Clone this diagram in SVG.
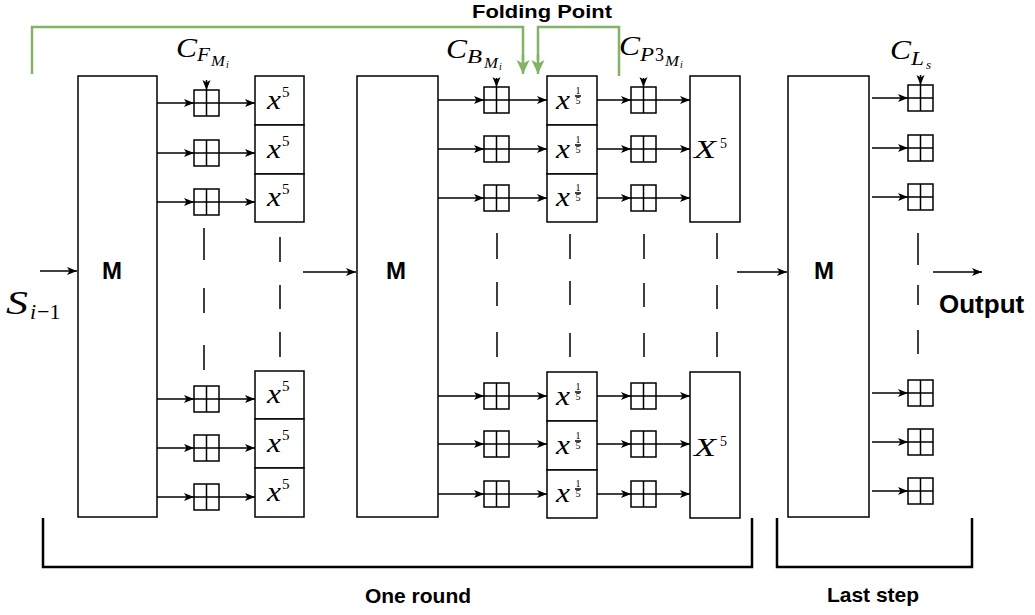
<svg xmlns="http://www.w3.org/2000/svg" xmlns:xlink="http://www.w3.org/1999/xlink" width="1035" height="615" viewBox="0 0 1035 615">
<style>
.bx{fill:#fff;stroke:#000;stroke-width:1.5}
.ln{stroke:#000;stroke-width:1.5;fill:none}
.ar{stroke:#000;stroke-width:1.5;fill:none;marker-end:url(#ah)}
.ds{stroke:#000;stroke-width:1.5;fill:none}
.gr{stroke:#82b366;stroke-width:2.5;fill:none}
.ga{stroke:#82b366;stroke-width:2.5;fill:none;marker-end:url(#gh)}
.br{stroke:#000;stroke-width:2.5;fill:none}
.bold{font-family:"Liberation Sans",Arial,sans-serif;font-weight:bold;fill:#000}
.mi{font-family:"Liberation Serif","Times New Roman",serif;font-style:italic;fill:#000}
.mn{font-family:"Liberation Serif","Times New Roman",serif;font-style:normal;fill:#000}
</style>
<defs>
<marker id="ah" markerWidth="11" markerHeight="9" refX="10" refY="4.5" orient="auto" markerUnits="userSpaceOnUse"><path d="M0,0.5 L10,4.5 L0,8.5 L2.5,4.5 z" fill="#000"/></marker>
<marker id="gh" markerWidth="15" markerHeight="14" refX="14" refY="7" orient="auto" markerUnits="userSpaceOnUse"><path d="M0,0.5 L14,7 L0,13.5 L3.5,7 z" fill="#82b366"/></marker>
<g id="plus"><rect x="0" y="0" width="25" height="26" class="bx"/><path d="M12.5,0 V26 M0,13 H25" class="ln"/></g>
</defs>

<!-- connectors -->
<g id="connectors">
  <path class="gr" d="M32,74 V27 H523 V60"/>
  <path class="ga" d="M523,55 V74"/>
  <path class="gr" d="M619,76 V27 H538 V60"/>
  <path class="ga" d="M538,55 V74"/>
  <path class="ar" d="M40,271 H77"/>
  <path class="ar" d="M303,272 H356"/>
  <path class="ar" d="M737,272 H787"/>
  <path class="ar" d="M933,272 H982"/>
  <path class="ar" d="M206.5,80 V90"/>
  <path class="ar" d="M496.5,78 V87"/>
  <path class="ar" d="M643.5,78 V87"/>
  <path class="ar" d="M920.5,75 V85"/>
  <path class="ar" d="M157,103 H194"/><path class="ar" d="M219,103 H255"/>
  <path class="ar" d="M157,153 H194"/><path class="ar" d="M219,153 H255"/>
  <path class="ar" d="M157,202 H194"/><path class="ar" d="M219,202 H255"/>
  <path class="ar" d="M157,399 H194"/><path class="ar" d="M219,399 H255"/>
  <path class="ar" d="M157,448 H194"/><path class="ar" d="M219,448 H255"/>
  <path class="ar" d="M157,497 H194"/><path class="ar" d="M219,497 H255"/>
  <path class="ar" d="M438,100 H484"/><path class="ar" d="M509,100 H547"/>
  <path class="ar" d="M438,149 H484"/><path class="ar" d="M509,149 H547"/>
  <path class="ar" d="M438,198 H484"/><path class="ar" d="M509,198 H547"/>
  <path class="ar" d="M438,396 H484"/><path class="ar" d="M509,396 H547"/>
  <path class="ar" d="M438,444 H484"/><path class="ar" d="M509,444 H547"/>
  <path class="ar" d="M438,494 H484"/><path class="ar" d="M509,494 H547"/>
  <path class="ar" d="M597,100 H631"/><path class="ar" d="M656,100 H690"/>
  <path class="ar" d="M597,149 H631"/><path class="ar" d="M656,149 H690"/>
  <path class="ar" d="M597,198 H631"/><path class="ar" d="M656,198 H690"/>
  <path class="ar" d="M597,396 H631"/><path class="ar" d="M656,396 H690"/>
  <path class="ar" d="M597,444 H631"/><path class="ar" d="M656,444 H690"/>
  <path class="ar" d="M597,494 H631"/><path class="ar" d="M656,494 H690"/>
  <path class="ar" d="M872,98 H908"/>
  <path class="ar" d="M872,148 H908"/>
  <path class="ar" d="M872,197 H908"/>
  <path class="ar" d="M872,393 H908"/>
  <path class="ar" d="M872,442 H908"/>
  <path class="ar" d="M872,491 H908"/>
</g>

<!-- ellipsis dashes -->
<g id="ellipsis" class="ds">
  <path d="M204,228 V260 M204,288 V313 M204,345 V370"/>
  <path d="M280,237 V262 M280,285 V309 M280,332 V357"/>
  <path d="M497,233 V259 M497,282 V306 M497,332 V357"/>
  <path d="M570,234 V259 M570,281 V305 M570,333 V357"/>
  <path d="M644,234 V259 M644,283 V307 M644,333 V357"/>
  <path d="M717,233 V259 M717,285 V309 M717,332 V357"/>
  <path d="M918,233 V265 M918,285 V305 M918,330 V354"/>
</g>

<!-- M boxes -->
<g id="m1"><rect class="bx" x="78" y="76" width="79" height="441"/><text class="bold" x="112" y="279" font-size="24" text-anchor="middle">M</text></g>
<g id="m2"><rect class="bx" x="357" y="76" width="81" height="441"/><text class="bold" x="396" y="279" font-size="24" text-anchor="middle">M</text></g>
<g id="m3"><rect class="bx" x="788" y="76" width="81" height="441"/><text class="bold" x="824" y="279" font-size="24" text-anchor="middle">M</text></g>

<!-- plus boxes column F -->
<g id="addF1"><use xlink:href="#plus" x="194" y="90"/></g>
<g id="addF2"><use xlink:href="#plus" x="194" y="140"/></g>
<g id="addF3"><use xlink:href="#plus" x="194" y="189"/></g>
<g id="addF4"><use xlink:href="#plus" x="194" y="386"/></g>
<g id="addF5"><use xlink:href="#plus" x="194" y="435"/></g>
<g id="addF6"><use xlink:href="#plus" x="194" y="484"/></g>

<!-- plus boxes column B -->
<g id="addB1"><use xlink:href="#plus" x="484" y="87"/></g>
<g id="addB2"><use xlink:href="#plus" x="484" y="136"/></g>
<g id="addB3"><use xlink:href="#plus" x="484" y="185"/></g>
<g id="addB4"><use xlink:href="#plus" x="484" y="383"/></g>
<g id="addB5"><use xlink:href="#plus" x="484" y="431"/></g>
<g id="addB6"><use xlink:href="#plus" x="484" y="481"/></g>

<!-- plus boxes column P3 -->
<g id="addP1"><use xlink:href="#plus" x="631" y="87"/></g>
<g id="addP2"><use xlink:href="#plus" x="631" y="136"/></g>
<g id="addP3"><use xlink:href="#plus" x="631" y="185"/></g>
<g id="addP4"><use xlink:href="#plus" x="631" y="383"/></g>
<g id="addP5"><use xlink:href="#plus" x="631" y="431"/></g>
<g id="addP6"><use xlink:href="#plus" x="631" y="481"/></g>

<!-- plus boxes column L -->
<g id="addL1"><use xlink:href="#plus" x="908" y="85"/></g>
<g id="addL2"><use xlink:href="#plus" x="908" y="135"/></g>
<g id="addL3"><use xlink:href="#plus" x="908" y="184"/></g>
<g id="addL4"><use xlink:href="#plus" x="908" y="380"/></g>
<g id="addL5"><use xlink:href="#plus" x="908" y="429"/></g>
<g id="addL6"><use xlink:href="#plus" x="908" y="478"/></g>

<!-- x^5 boxes -->
<g id="pow1"><rect class="bx" x="255" y="76" width="49" height="49"/><text class="mi" x="267" y="109" font-size="27" textLength="14" lengthAdjust="spacingAndGlyphs">x</text><text class="mn" x="282" y="97" font-size="15">5</text></g>
<g id="pow2"><rect class="bx" x="255" y="125" width="49" height="49"/><text class="mi" x="267" y="158" font-size="27" textLength="14" lengthAdjust="spacingAndGlyphs">x</text><text class="mn" x="282" y="146" font-size="15">5</text></g>
<g id="pow3"><rect class="bx" x="255" y="174" width="49" height="48"/><text class="mi" x="267" y="206" font-size="27" textLength="14" lengthAdjust="spacingAndGlyphs">x</text><text class="mn" x="282" y="194" font-size="15">5</text></g>
<g id="pow4"><rect class="bx" x="255" y="371" width="49" height="48"/><text class="mi" x="267" y="403" font-size="27" textLength="14" lengthAdjust="spacingAndGlyphs">x</text><text class="mn" x="282" y="391" font-size="15">5</text></g>
<g id="pow5"><rect class="bx" x="255" y="419" width="49" height="49"/><text class="mi" x="267" y="452" font-size="27" textLength="14" lengthAdjust="spacingAndGlyphs">x</text><text class="mn" x="282" y="440" font-size="15">5</text></g>
<g id="pow6"><rect class="bx" x="255" y="468" width="49" height="49"/><text class="mi" x="267" y="501" font-size="27" textLength="14" lengthAdjust="spacingAndGlyphs">x</text><text class="mn" x="282" y="489" font-size="15">5</text></g>

<!-- x^(1/5) boxes -->
<g id="root1"><rect class="bx" x="547" y="76" width="50" height="49"/><text class="mi" x="556" y="109" font-size="27" textLength="14" lengthAdjust="spacingAndGlyphs">x</text><text class="mn" x="578" y="94" font-size="10" text-anchor="middle">1</text><path class="ln" d="M575,96 H581" stroke-width="0.8"/><text class="mn" x="578" y="104" font-size="10" text-anchor="middle">5</text></g>
<g id="root2"><rect class="bx" x="547" y="125" width="50" height="49"/><text class="mi" x="556" y="158" font-size="27" textLength="14" lengthAdjust="spacingAndGlyphs">x</text><text class="mn" x="578" y="143" font-size="10" text-anchor="middle">1</text><path class="ln" d="M575,145 H581" stroke-width="0.8"/><text class="mn" x="578" y="153" font-size="10" text-anchor="middle">5</text></g>
<g id="root3"><rect class="bx" x="547" y="174" width="50" height="48"/><text class="mi" x="556" y="206" font-size="27" textLength="14" lengthAdjust="spacingAndGlyphs">x</text><text class="mn" x="578" y="191" font-size="10" text-anchor="middle">1</text><path class="ln" d="M575,193 H581" stroke-width="0.8"/><text class="mn" x="578" y="201" font-size="10" text-anchor="middle">5</text></g>
<g id="root4"><rect class="bx" x="547" y="372" width="50" height="49"/><text class="mi" x="556" y="405" font-size="27" textLength="14" lengthAdjust="spacingAndGlyphs">x</text><text class="mn" x="578" y="390" font-size="10" text-anchor="middle">1</text><path class="ln" d="M575,392 H581" stroke-width="0.8"/><text class="mn" x="578" y="400" font-size="10" text-anchor="middle">5</text></g>
<g id="root5"><rect class="bx" x="547" y="421" width="50" height="49"/><text class="mi" x="556" y="454" font-size="27" textLength="14" lengthAdjust="spacingAndGlyphs">x</text><text class="mn" x="578" y="439" font-size="10" text-anchor="middle">1</text><path class="ln" d="M575,441 H581" stroke-width="0.8"/><text class="mn" x="578" y="449" font-size="10" text-anchor="middle">5</text></g>
<g id="root6"><rect class="bx" x="547" y="470" width="50" height="48"/><text class="mi" x="556" y="502" font-size="27" textLength="14" lengthAdjust="spacingAndGlyphs">x</text><text class="mn" x="578" y="487" font-size="10" text-anchor="middle">1</text><path class="ln" d="M575,489 H581" stroke-width="0.8"/><text class="mn" x="578" y="497" font-size="10" text-anchor="middle">5</text></g>

<!-- X^5 boxes -->
<g id="sbox1"><rect class="bx" x="690" y="76" width="50" height="146"/><text class="mi" x="694" y="158" font-size="26" textLength="22" lengthAdjust="spacingAndGlyphs">X</text><text class="mn" x="720" y="148" font-size="14">5</text></g>
<g id="sbox2"><rect class="bx" x="690" y="372" width="50" height="146"/><text class="mi" x="694" y="456" font-size="26" textLength="22" lengthAdjust="spacingAndGlyphs">X</text><text class="mn" x="720" y="446" font-size="14">5</text></g>

<!-- braces -->
<g id="brace-round"><path class="br" d="M43,518 V567 H752 V518"/><text class="bold" x="418" y="603" font-size="21" text-anchor="middle">One round</text></g>
<g id="brace-last"><path class="br" d="M777,518 V567 H972 V518"/><text class="bold" x="873" y="602" font-size="21" text-anchor="middle">Last step</text></g>

<!-- labels -->
<g id="label-fold"><text class="bold" x="472" y="18" font-size="18" textLength="140" lengthAdjust="spacingAndGlyphs">Folding Point</text></g>
<g id="label-CF"><text class="mi" x="176" y="57" font-size="27" textLength="21" lengthAdjust="spacingAndGlyphs">C</text><text class="mi" x="197" y="61" font-size="18" textLength="13" lengthAdjust="spacingAndGlyphs">F</text><text class="mi" x="211" y="66" font-size="14" textLength="14" lengthAdjust="spacingAndGlyphs">M</text><text class="mi" x="226" y="68" font-size="10">i</text></g>
<g id="label-CB"><text class="mi" x="446" y="58" font-size="27" textLength="21" lengthAdjust="spacingAndGlyphs">C</text><text class="mi" x="467" y="63" font-size="18" textLength="15" lengthAdjust="spacingAndGlyphs">B</text><text class="mi" x="484" y="68" font-size="14" textLength="14" lengthAdjust="spacingAndGlyphs">M</text><text class="mi" x="499" y="70" font-size="10">i</text></g>
<g id="label-CP3"><text class="mi" x="619" y="55" font-size="27" textLength="21" lengthAdjust="spacingAndGlyphs">C</text><text class="mi" x="640" y="61" font-size="18" textLength="14" lengthAdjust="spacingAndGlyphs">P</text><text class="mn" x="655" y="61" font-size="18">3</text><text class="mi" x="665" y="66" font-size="14" textLength="14" lengthAdjust="spacingAndGlyphs">M</text><text class="mi" x="680" y="68" font-size="10">i</text></g>
<g id="label-CL"><text class="mi" x="890" y="59" font-size="27" textLength="21" lengthAdjust="spacingAndGlyphs">C</text><text class="mi" x="911" y="65" font-size="18" textLength="13" lengthAdjust="spacingAndGlyphs">L</text><text class="mi" x="926" y="69" font-size="13">s</text></g>
<g id="label-S"><text class="mi" x="6" y="314" font-size="34" textLength="22" lengthAdjust="spacingAndGlyphs">S</text><text class="mi" x="30" y="319" font-size="22">i</text><text class="mn" x="37" y="319" font-size="22">−1</text></g>
<g id="label-out"><text class="bold" x="939" y="313" font-size="26">Output</text></g>
</svg>
